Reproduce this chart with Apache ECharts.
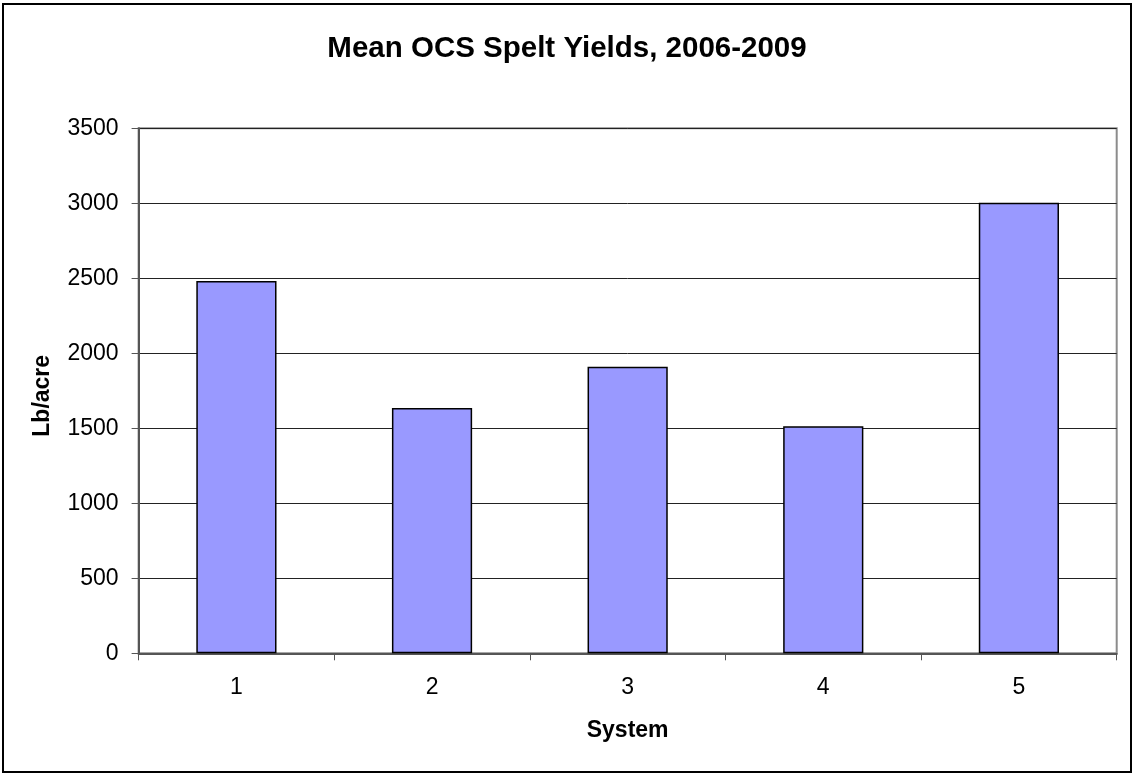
<!DOCTYPE html>
<html>
<head>
<meta charset="utf-8">
<script src="https://cdn.jsdelivr.net/npm/echarts@6/dist/echarts.min.js"></script>
<style>
html,body{margin:0;padding:0;background:#fff;}
#chart{width:1134px;height:774px;}
</style>
</head>
<body>
<div id="chart"></div>
<script>
var categories = ['1', '2', '3', '4', '5'];
var yields = [2482, 1636, 1911, 1513, 3003];
var yTicks = [0, 500, 1000, 1500, 2000, 2500, 3000, 3500];

var FONT = "'Liberation Sans', Arial, sans-serif";
var chart = echarts.init(document.getElementById('chart'), null, {renderer: 'canvas'});
chart.setOption({
  backgroundColor: '#ffffff',
  animation: false,
  title: {
    text: 'Mean OCS Spelt Yields, 2006-2009',
    left: 'center',
    top: 29,
    textStyle: {fontFamily: FONT, fontSize: 29.5, fontWeight: 'bold', color: '#000'}
  },
  graphic: [{
    type: 'rect',
    shape: {x: 3, y: 4, width: 1128, height: 768},
    style: {fill: 'none', stroke: '#000', lineWidth: 2},
    silent: true
  }],
  grid: {
    left: 138.6, right: 17.3, top: 128.3, bottom: 120.7,
    show: true, borderColor: '#8c8c8c', borderWidth: 2, backgroundColor: 'transparent'
  },
  xAxis: {
    type: 'category',
    data: categories,
    name: 'System',
    nameLocation: 'middle',
    nameGap: 66,
    nameTextStyle: {fontFamily: FONT, fontSize: 23, fontWeight: 'bold', color: '#000'},
    axisLine: {show: true, lineStyle: {color: '#555', width: 2}},
    axisTick: {show: true, alignWithLabel: false, length: 7, lineStyle: {color: '#555', width: 1}},
    axisLabel: {fontFamily: FONT, fontSize: 23, color: '#000', margin: 23},
    splitLine: {show: false}
  },
  yAxis: {
    type: 'value',
    min: 0, max: 3500, interval: 500,
    name: 'Lb/acre',
    nameLocation: 'middle',
    nameGap: 84,
    nameTextStyle: {fontFamily: FONT, fontSize: 23, fontWeight: 'bold', color: '#000', padding: [0, 10, 0, 0]},
    axisLine: {show: true, lineStyle: {color: '#555', width: 2}},
    axisTick: {show: true, length: 7, lineStyle: {color: '#555', width: 1}},
    axisLabel: {
      fontFamily: FONT, fontSize: 23, color: '#000', margin: 20,
      formatter: function (v) { return yTicks.indexOf(v) >= 0 ? String(v) : ''; }
    },
    splitLine: {show: true, lineStyle: {color: '#222', width: 1}}
  },
  series: [{
    type: 'bar',
    data: yields,
    barWidth: '41%',
    itemStyle: {color: '#9999ff', borderColor: '#000', borderWidth: 1.5}
  }]
});
</script>
</body>
</html>
